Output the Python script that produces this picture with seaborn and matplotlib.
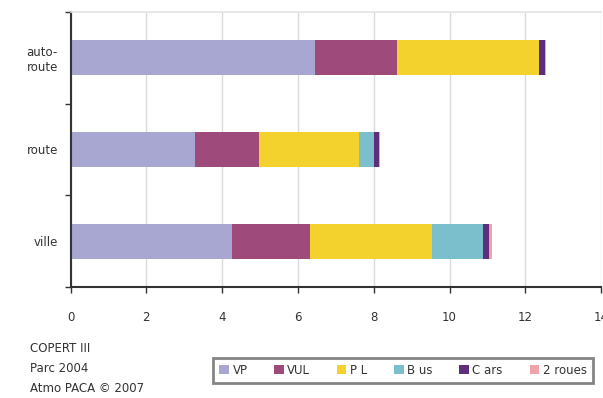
import numpy as np
import pandas as pd
import matplotlib
matplotlib.use("Agg")
import matplotlib.pyplot as plt
import seaborn as sns

# Emissions by road type, split by vehicle category
road_types = ["auto-\nroute", "route", "ville"]
vehicle_types = ["VP", "VUL", "P L", "B us", "C ars", "2 roues"]
vp = [6.45, 3.29, 4.27]
vul = [2.16, 1.69, 2.05]
pl = [3.75, 2.64, 3.21]
bus = [0.00, 0.39, 1.36]
cars = [0.16, 0.13, 0.16]
deux_roues = [0.03, 0.02, 0.06]
x_ticks = [0, 2, 4, 6, 8, 10, 12, 14]

colors = ["#A7A7D1", "#9E4A7A", "#F4D22E", "#7ABFCB", "#5E2D7C", "#F2A3AA"]

sns.set_theme(style="white")
plt.rcParams["font.family"] = ["DejaVu Sans"]

series = [vp, vul, pl, bus, cars, deux_roues]
df = pd.DataFrame({name: vals for name, vals in zip(vehicle_types, series)})
df["type"] = road_types
cum = df[vehicle_types].cumsum(axis=1)

fig = plt.figure(figsize=(6.03, 3.98), dpi=100)
ax = fig.add_axes([0.117, 0.279, 0.880, 0.691])

# Stacked bars: draw cumulative totals from the outermost segment inwards
for name, col in reversed(list(zip(vehicle_types, colors))):
    sns.barplot(x=cum[name], y=df["type"], color=col, width=0.38,
                orient="h", ax=ax, saturation=1, linewidth=0, label=name)

txt = "#333333"
ax.set_xlim(0, 14)
ax.set_ylim(2.5, -0.5)
ax.set_xticks(x_ticks)
ax.set_xticklabels([str(t) for t in x_ticks])
ax.set_xlabel("")
ax.set_ylabel("")
ax.set_yticks([-0.5, 0.5, 1.5, 2.5], minor=False)
ax.set_yticklabels([])
ax.set_yticks([0, 1, 2], minor=True)
ax.set_yticklabels(road_types, minor=True)
ax.tick_params(axis="y", which="major", direction="out", length=4, width=1,
               color=txt, left=True)
ax.tick_params(axis="y", which="minor", length=0, pad=9, labelsize=8.5,
               labelcolor=txt)
ax.tick_params(axis="x", direction="out", length=4, width=1, color=txt,
               bottom=True, pad=13, labelsize=8.5, labelcolor=txt)
for lbl in ax.get_yticklabels(minor=True):
    lbl.set_horizontalalignment("right")
    lbl.set_multialignment("center")

ax.grid(axis="x", color="#DADADA", linewidth=1)
ax.set_axisbelow(True)
for side in ["left", "bottom"]:
    ax.spines[side].set_color(txt)
    ax.spines[side].set_linewidth(1.5)
ax.spines["top"].set_color("#E4E4E4")
ax.spines["right"].set_visible(False)

leg = ax.get_legend()
if leg is not None:
    leg.remove()
handles, labels = ax.get_legend_handles_labels()
order = [labels.index(v) for v in vehicle_types]
fig.legend([handles[i] for i in order], vehicle_types, ncol=6,
           loc="center", mode="expand",
           bbox_to_anchor=(213 / 603, 1 - 388 / 398, 380 / 603, 35 / 398),
           frameon=True, fancybox=False, edgecolor="#666666",
           fontsize=8.5, handlelength=0.8, handleheight=0.8,
           handletextpad=0.3, columnspacing=0.8, borderpad=0.55,
           borderaxespad=0, labelcolor=txt)
fig.legends[0].get_frame().set_linewidth(2)

fig.text(30 / 603, 1 - 348 / 398, "COPERT III", fontsize=8.5, color=txt, va="center")
fig.text(30 / 603, 1 - 368 / 398, "Parc 2004", fontsize=8.5, color=txt, va="center")
fig.text(30 / 603, 1 - 389 / 398, "Atmo PACA © 2007", fontsize=8.5, color=txt, va="center")

fig.savefig("out.png", dpi=100)
